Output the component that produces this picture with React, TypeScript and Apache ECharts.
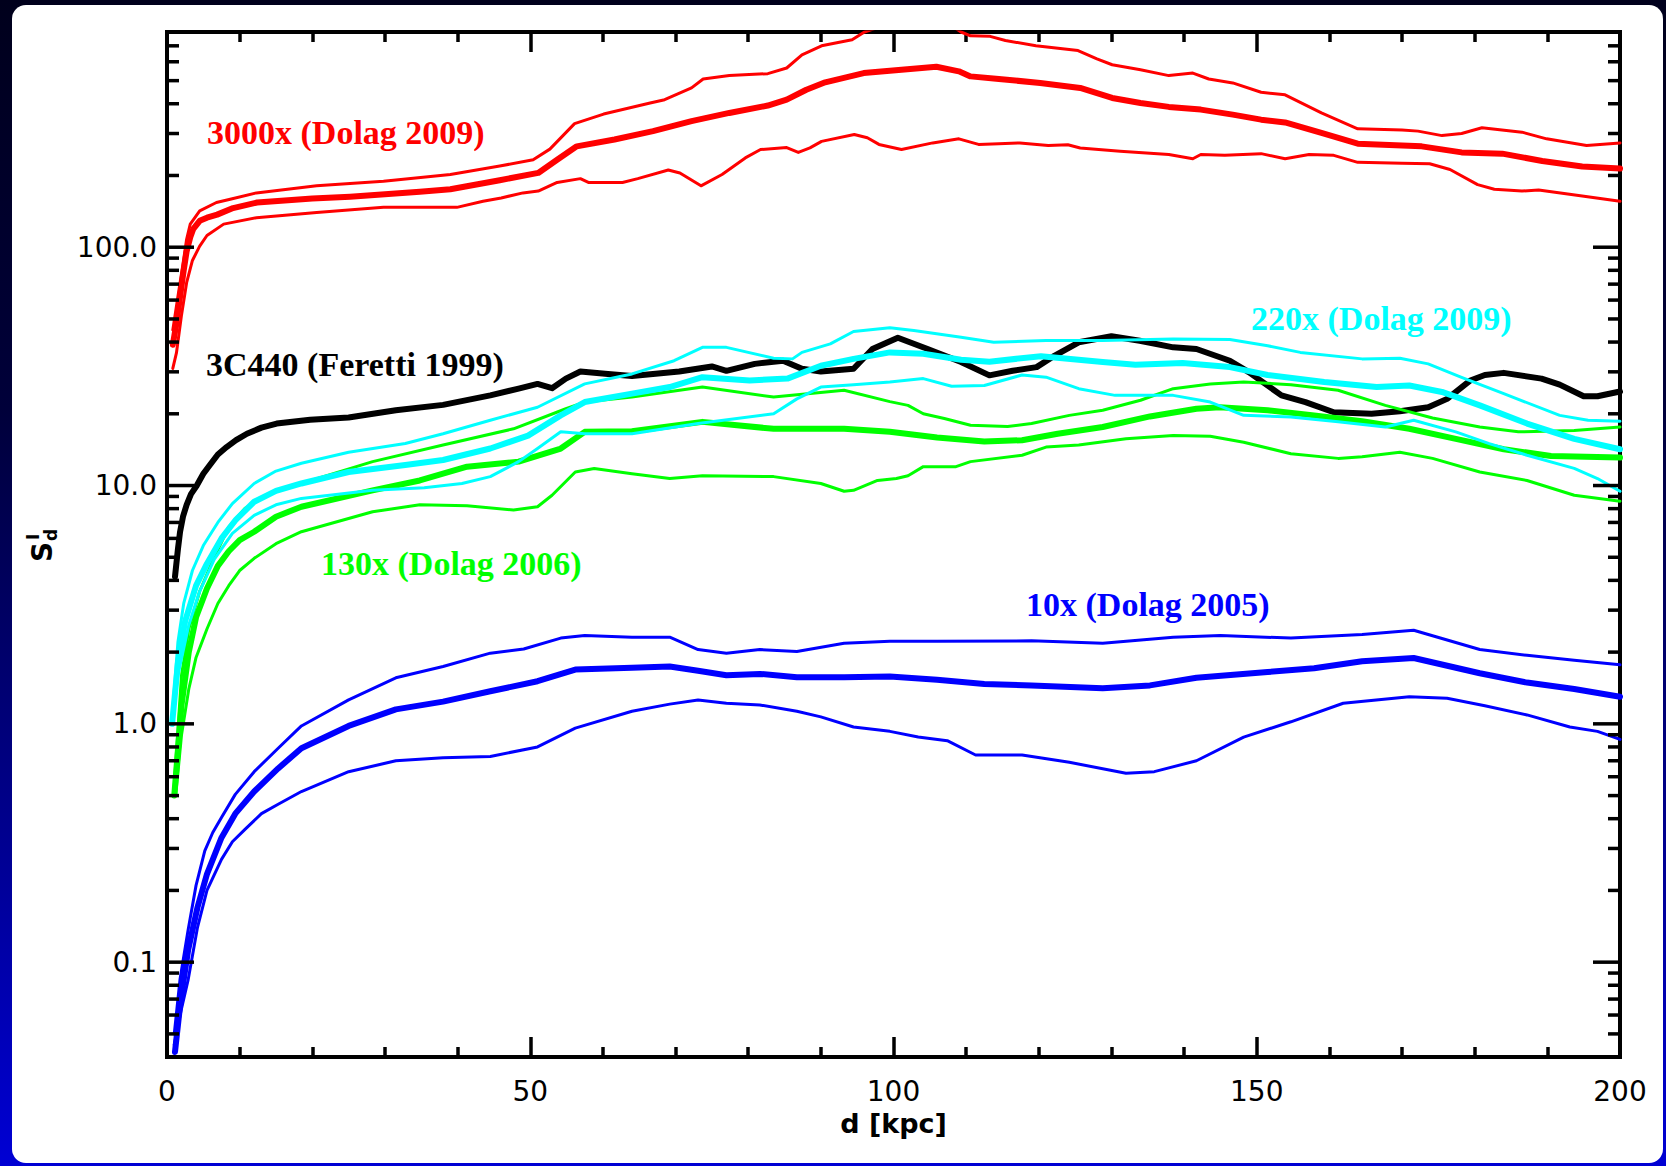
import React, { useEffect, useRef } from "react";
import * as echarts from "echarts";

// ---------- data (d [kpc], S value) ----------
const X_MIN = 0;
const X_MAX = 200;
const Y_MIN = 0.04;
const Y_MAX = 800;
const Y_MAJOR = [0.1, 1, 10, 100];
const Y_MINOR = [
  0.05, 0.06, 0.07, 0.08, 0.09,
  0.2, 0.3, 0.4, 0.5, 0.6, 0.7, 0.8, 0.9,
  2, 3, 4, 5, 6, 7, 8, 9,
  20, 30, 40, 50, 60, 70, 80, 90,
  200, 300, 400, 500, 600, 700,
];

const LABEL_TEXTS = {
  red: "3000x (Dolag 2009)",
  black: "3C440 (Feretti 1999)",
  cyan: "220x (Dolag 2009)",
  green: "130x (Dolag 2006)",
  blue: "10x (Dolag 2005)",
};

const RED_MID = [
  [0.8, 39], [1.3, 48], [1.8, 62], [2.3, 80], [2.7, 96], [3.2, 110], [3.6, 119], [4.5, 129], [5.5, 133],
  [6.9, 137], [9.1, 146], [12.4, 154],
  [20, 160], [25.2, 163], [34.8, 171], [39, 175], [45.8, 191], [51.1, 205], [53.7, 233], [56.4, 265],
  [61.6, 283], [66.9, 307], [72.2, 338], [77.4, 366], [82.7, 393], [85.3, 416], [88.0, 458], [90.6, 492],
  [95.9, 538], [101.1, 556], [105.9, 572], [109.0, 547], [110.6, 521], [114.5, 508], [120.2, 489],
  [125.7, 466], [130.1, 423], [134.0, 403], [137.9, 388], [142.3, 378], [146.7, 360], [150.6, 343],
  [153.9, 334], [158.9, 302], [163.9, 272], [170.0, 267], [172.7, 265], [178.2, 250], [183.8, 247],
  [189.3, 230], [194.8, 218], [200, 214],
];
const RED_UP = [
  [0.8, 45], [1.5, 62], [2.2, 85], [2.7, 108], [3.2, 125], [4.5, 142], [6.8, 154], [8.7, 159], [12.3, 169], [20.6, 181],
  [29.8, 189], [39.0, 202], [45.8, 219], [50.4, 233], [52.7, 258], [56.1, 330], [60.1, 362],
  [66.5, 403], [68.5, 416], [72.2, 466], [73.8, 508], [77.4, 525], [82.7, 535], [85.3, 565],
  [87.4, 642], [90.1, 700], [94.3, 742], [96.0, 800], [100, 880], [104, 900], [108, 850],
  [109.3, 800], [110.6, 771], [113.3, 767], [115.4, 737], [119.6, 700], [125.4, 669], [128.0, 617],
  [130.1, 583], [134.0, 556], [137.9, 525], [141.2, 538], [143.4, 508], [146.7, 489], [150.6, 447],
  [153.9, 436], [158.9, 366], [163.9, 314], [170.0, 310], [172.2, 307], [175.5, 294], [178.2, 300],
  [181.0, 317], [186.5, 304], [189.9, 285], [195.4, 267], [200, 274],
];
const RED_LO = [
  [0.8, 31], [1.3, 36], [2.0, 52], [2.7, 71], [3.5, 88], [4.5, 101], [5.5, 112], [7.8, 125], [12.3, 133], [20.6, 140],
  [29.8, 147], [39.9, 147], [43.5, 156], [46, 161], [49.0, 169], [51.1, 172], [53.7, 187],
  [56.9, 194], [58.0, 187], [62.7, 187], [64.8, 194], [69.0, 211], [70.6, 205], [73.5, 181],
  [76.4, 202], [79.6, 237], [81.7, 257], [85.3, 262], [86.9, 250], [88.5, 261], [90.1, 278],
  [94.6, 297], [96.4, 288], [98.0, 270], [101.1, 257], [105.4, 274], [109.0, 285], [111.7, 270],
  [114.5, 272], [117.4, 274], [121.3, 267], [124.0, 269], [125.7, 261], [131.2, 253], [137.9, 245],
  [141.2, 235], [142.3, 245], [145.6, 243], [150.6, 247], [153.9, 235], [157.2, 245], [160.6, 243],
  [163.9, 227], [170.0, 225], [173.8, 224], [176.6, 212], [180.4, 183], [182.7, 175], [186.5, 172],
  [188.8, 174], [194.3, 165], [200, 156],
];
const BLACK_3C440 = [
  [1.1, 4.15], [1.5, 5.4], [1.8, 6.4], [2.2, 7.4], [2.7, 8.3], [3.3, 9.2], [4.1, 10.0], [5.0, 11.2], [5.9, 12.2],
  [7.0, 13.5], [8.2, 14.5], [9.5, 15.5], [11.0, 16.5], [13.0, 17.5],
  [15.1, 18.2], [19.7, 18.9], [25.0, 19.3], [31.5, 20.7], [38.0, 21.8], [44.5, 23.9], [48.4, 25.5],
  [51.0, 26.7], [53.0, 25.6], [54.9, 28.1], [56.9, 30.1], [60.7, 29.4], [64.0, 28.8], [70.5, 30.1],
  [75.0, 31.6], [77.0, 30.3], [80.9, 32.4], [84.8, 33.4], [87.4, 30.9], [90.0, 30.1], [94.5, 30.9],
  [97.1, 37.4], [100.6, 41.7], [104.7, 37.4], [109.3, 33.0], [113.2, 29.0], [116.4, 30.3],
  [119.7, 31.4], [122.2, 35.1], [125.5, 39.9], [130.0, 42.3], [133.9, 40.5], [138.5, 38.0],
  [141.7, 37.4], [146.3, 33.4], [148.9, 29.9], [153.4, 23.9], [156.7, 22.4], [160.6, 20.3],
  [165.8, 20.0], [169.7, 20.5], [173.6, 21.3], [176.2, 23.1], [179.4, 27.6], [181.4, 29.1],
  [184.0, 29.7], [189.2, 28.1], [191.7, 26.5], [195.0, 23.7], [196.9, 23.7], [200, 24.8],
];
const CYAN_UP = [
  [0.7, 1.05], [1.5, 2.2], [2.3, 3.2], [3.5, 4.4], [5.0, 5.6], [7.0, 7.0], [9.0, 8.4], [12.0, 10.2],
  [15.0, 11.5], [18.5, 12.4], [25.0, 13.8],
  [32.8, 15.0], [38.0, 16.5], [44.5, 18.8], [51.0, 21.3], [57.5, 26.7], [64.0, 29.4], [69.8, 33.4],
  [73.7, 38.0], [77.0, 38.0], [83.5, 34.2], [86.1, 34.0], [87.4, 36.2], [91.3, 39.3], [94.5, 44.3],
  [99.5, 45.9], [102.8, 44.7], [109.3, 41.9], [113.8, 39.9], [121.0, 40.6], [128.8, 40.6],
  [138.5, 41.2], [146.3, 41.0], [151.5, 38.6], [156.0, 36.2], [164.5, 34.0], [169.7, 34.2],
  [173.6, 32.4], [178.1, 28.5], [184.0, 24.3], [191.7, 19.7], [195.6, 18.8], [200, 18.6],
];
const CYAN_MID = [
  [0.7, 1.0], [1.5, 1.8], [2.5, 2.7], [4.0, 3.8], [5.5, 4.7], [7.5, 6.0], [9.5, 7.2], [12.0, 8.55],
  [15.0, 9.5], [18.5, 10.2],
  [25.0, 11.4], [32.8, 12.2], [38.0, 12.8], [44.5, 14.3], [49.7, 16.2], [54.2, 19.7], [57.5, 22.4],
  [64.0, 24.3], [69.2, 25.9], [73.7, 28.5], [80.2, 27.6], [85.4, 28.1], [90.0, 31.8], [94.5, 34.0],
  [99.5, 36.2], [104.1, 35.7], [109.3, 33.7], [113.2, 33.1], [120.3, 34.9], [128.8, 33.0],
  [133.3, 32.1], [139.8, 32.7], [146.3, 31.4], [151.5, 29.1], [159.3, 27.2], [166.5, 25.9],
  [171.0, 26.3], [175.5, 24.7], [180.7, 21.7], [187.2, 18.2], [193.7, 15.7], [200, 14.2],
];
const CYAN_LO = [
  [0.7, 1.0], [1.5, 1.6], [3.0, 2.6], [4.5, 3.6], [6.5, 4.9], [9.0, 6.3], [12.0, 7.5], [15.0, 8.3], [18.5, 8.83],
  [28.3, 9.55], [35.4, 9.78], [40.6, 10.2], [44.5, 10.9], [48.4, 12.6], [51.0, 14.3], [54.2, 16.8],
  [57.5, 16.5], [64.0, 16.5], [73.1, 18.2], [83.5, 20.0], [86.7, 23.1], [90.0, 25.9], [94.5, 26.5],
  [99.5, 27.2], [104.1, 28.1], [108.0, 26.1], [112.5, 26.3], [117.7, 29.1], [121.0, 28.5],
  [125.5, 25.5], [130.5, 23.9], [138.5, 23.9], [143.6, 22.4], [148.2, 19.7], [154.7, 19.4],
  [161.2, 18.5], [167.7, 17.6], [171.6, 18.8], [177.4, 16.8], [182.0, 15.0], [187.2, 13.4],
  [193.7, 11.8], [196.9, 10.7], [200, 9.46],
];
const GREEN_UP = [
  [1.0, 0.55], [2.0, 1.6], [3.0, 2.5], [4.5, 3.6], [6.5, 5.0], [8.5, 6.7], [10.7, 8.0], [14.0, 9.2], [18.5, 10.2],
  [28.3, 12.6], [38.0, 14.8], [47.7, 17.3], [54.9, 21.0], [57.5, 22.4], [64.0, 23.5], [73.7, 25.9],
  [83.5, 23.5], [93.2, 25.1], [99.5, 22.5], [102, 21.7], [104.1, 20.0], [107, 19.1], [110.6, 17.9],
  [115.7, 17.7], [119, 18.2], [124.2, 19.7], [128.8, 20.7], [134, 22.8], [138.5, 25.5],
  [143.6, 26.7], [148.2, 27.2], [154.7, 26.5], [161.2, 25.1], [167.7, 21.7], [174.2, 19.2],
  [180.7, 17.6], [186, 16.8], [193.7, 17.0], [200, 17.6],
];
const GREEN_MID = [
  [1.0, 0.5], [2.0, 1.2], [3.0, 2.0], [4.0, 2.8], [5.5, 3.7], [7.0, 4.6], [8.5, 5.3], [10.0, 5.9],
  [12.0, 6.4], [15.0, 7.4], [18.5, 8.15],
  [28.3, 9.55], [34.8, 10.5], [41.3, 12.0], [48.4, 12.6], [54.2, 14.3], [57.5, 16.8], [64.0, 16.9],
  [73.7, 18.5], [83.5, 17.3], [93.2, 17.3], [99.5, 16.8], [106, 15.9], [112.5, 15.3], [117.7, 15.5],
  [122.6, 16.5], [128.8, 17.6], [135.3, 19.5], [141.7, 21.0], [144.9, 21.3], [151.5, 20.7],
  [157.9, 19.7], [164.5, 18.6], [171, 17.3], [177.4, 15.7], [184, 14.2], [190.5, 13.3], [200, 13.1],
];
const GREEN_LO = [
  [1.2, 0.5], [2.0, 0.9], [3.0, 1.4], [4.0, 1.9], [5.5, 2.5], [7.0, 3.2], [8.5, 3.8], [10.0, 4.4],
  [12.0, 4.95], [15.0, 5.7], [18.5, 6.4],
  [28.3, 7.76], [34.8, 8.3], [41.3, 8.23], [47.7, 7.89], [51.0, 8.15], [53.0, 9.1], [56.2, 11.4],
  [58.8, 11.8], [64.0, 11.2], [69.2, 10.7], [73.7, 11.0], [83.5, 10.9], [90.0, 10.2], [93.2, 9.46],
  [94.5, 9.55], [97.8, 10.5], [100.4, 10.7], [102, 11.0], [104.1, 12.0], [108.6, 12.0],
  [110.6, 12.6], [117.7, 13.4], [121, 14.5], [125.5, 14.8], [132, 15.7], [138.5, 16.2],
  [143.6, 16.1], [148.2, 15.2], [154.7, 13.6], [161.2, 13.0], [164.5, 13.2], [169.7, 13.8],
  [174.2, 13.0], [180.7, 11.4], [187.2, 10.5], [193.7, 9.1], [200, 8.6],
];
const BLUE_UP = [
  [1.0, 0.05], [1.8, 0.085], [2.9, 0.136], [4.0, 0.21], [5.2, 0.293], [6.3, 0.35], [7.5, 0.405], [9.4, 0.506],
  [12.0, 0.63], [15.3, 0.79],
  [18.5, 0.98], [25.0, 1.26], [31.5, 1.56], [38.0, 1.74], [44.5, 1.98], [49.1, 2.06], [54.2, 2.29],
  [57.5, 2.35], [64.0, 2.31], [69.2, 2.31], [73.1, 2.05], [77.0, 1.98], [81.6, 2.05], [86.7, 2.01],
  [93.2, 2.18], [99.5, 2.22], [106, 2.22], [119, 2.23], [128.8, 2.18], [138.5, 2.31], [145, 2.35],
  [154.7, 2.29], [164.5, 2.37], [171.6, 2.47], [180.7, 2.05], [187.2, 1.94], [193.7, 1.85], [200, 1.77],
];
const BLUE_MID = [
  [1.1, 0.042], [1.9, 0.07], [2.9, 0.112], [4.2, 0.17], [5.5, 0.234], [7.5, 0.333], [9.4, 0.42],
  [12.0, 0.52], [15.3, 0.65],
  [18.5, 0.79], [25.0, 0.98], [31.5, 1.15], [38.0, 1.24], [44.5, 1.37], [51.0, 1.51], [56.2, 1.69],
  [64.0, 1.72], [69.2, 1.74], [73.1, 1.67], [77.0, 1.60], [81.6, 1.62], [86.7, 1.57], [93.2, 1.57],
  [99.5, 1.58], [106, 1.53], [112.5, 1.47], [119, 1.45], [128.8, 1.41], [135.3, 1.45], [141.7, 1.56],
  [151.5, 1.65], [157.9, 1.71], [164.5, 1.83], [171.6, 1.89], [180.7, 1.63], [187.2, 1.49],
  [193.7, 1.40], [200, 1.30],
];
const BLUE_LO = [
  [1.0, 0.045], [1.9, 0.062], [2.9, 0.084], [4.2, 0.14], [5.5, 0.2], [7.5, 0.27], [9.0, 0.32],
  [10.7, 0.36], [13.0, 0.42], [15.3, 0.46], [18.5, 0.52],
  [25.0, 0.63], [31.5, 0.70], [38.0, 0.72], [44.5, 0.73], [51.0, 0.80], [56.2, 0.96], [64.0, 1.13],
  [69.2, 1.21], [73.1, 1.26], [77.0, 1.22], [81.6, 1.20], [86.7, 1.13], [90.0, 1.07], [94.5, 0.97],
  [99.5, 0.93], [103.4, 0.88], [107.4, 0.85], [111.3, 0.74], [117.7, 0.74], [124.2, 0.69],
  [132, 0.62], [135.9, 0.63], [141.7, 0.70], [148.2, 0.88], [154.7, 1.02], [161.9, 1.22],
  [171, 1.30], [176.2, 1.28], [181.4, 1.19], [187.2, 1.09], [193.1, 0.97], [196.9, 0.93], [200, 0.86],
];

// ---------- styling ----------
const RED = "#ff0000";
const BLACK = "#000000";
const CYAN = "#00ffff";
const GREEN = "#00ff00";
const BLUE = "#0000ff";
const THICK = 6;
const THIN = 3;

const LINES: { name: string; data: number[][]; color: string; width: number }[] = [
  { name: "3C440", data: BLACK_3C440, color: BLACK, width: THICK },
  { name: "130x lo", data: GREEN_LO, color: GREEN, width: THIN },
  { name: "130x up", data: GREEN_UP, color: GREEN, width: THIN },
  { name: "130x", data: GREEN_MID, color: GREEN, width: THICK },
  { name: "220x lo", data: CYAN_LO, color: CYAN, width: THIN },
  { name: "220x up", data: CYAN_UP, color: CYAN, width: THIN },
  { name: "220x", data: CYAN_MID, color: CYAN, width: THICK },
  { name: "3000x lo", data: RED_LO, color: RED, width: THIN },
  { name: "3000x up", data: RED_UP, color: RED, width: THIN },
  { name: "3000x", data: RED_MID, color: RED, width: THICK },
  { name: "10x lo", data: BLUE_LO, color: BLUE, width: THIN },
  { name: "10x up", data: BLUE_UP, color: BLUE, width: THIN },
  { name: "10x", data: BLUE_MID, color: BLUE, width: THICK },
];

const TICK_FONT = "DejaVu Sans";
const SERIF = "Liberation Serif";

function yLabel(v: number): string {
  const e = Math.log10(v);
  const r = Math.round(e);
  if (Math.abs(e - r) > 1e-6) return "";
  return Math.pow(10, r).toFixed(r < 0 ? -r : 1);
}

export default function App() {
  const ref = useRef<HTMLDivElement>(null);

  useEffect(() => {
    document.body.style.margin = "0";
    document.body.style.overflow = "hidden";
    if (!ref.current) return;
    const chart = echarts.init(ref.current, null, { renderer: "svg" });

    const tickData = [
      ...Y_MAJOR.map((v) => [X_MIN, v, 1]),
      ...Y_MINOR.map((v) => [X_MIN, v, 0]),
    ];

    const lineSeries = LINES.map((l) => ({
      type: "line",
      name: l.name,
      data: l.data,
      showSymbol: false,
      symbol: "none",
      smooth: false,
      clip: true,
      silent: true,
      lineStyle: { color: l.color, width: l.width, cap: "round", join: "round" },
    }));

    const tickSeries = {
      type: "custom",
      silent: true,
      clip: false,
      z: 10,
      data: tickData,
      encode: { x: 0, y: 1 },
      renderItem: (_params: any, api: any) => {
        const v = api.value(1);
        const len = api.value(2) ? 27 : 12;
        const L = api.coord([X_MIN, v]);
        const R = api.coord([X_MAX, v]);
        const st = { stroke: "#000", lineWidth: 3.5 };
        return {
          type: "group",
          children: [
            { type: "line", shape: { x1: L[0], y1: L[1], x2: L[0] + len, y2: L[1] }, style: st },
            { type: "line", shape: { x1: R[0] - len, y1: R[1], x2: R[0], y2: R[1] }, style: st },
          ],
        };
      },
    };

    const xTickCommon = {
      type: "value",
      min: X_MIN,
      max: X_MAX,
      interval: 50,
      axisLine: { show: false },
      axisTick: { show: true, inside: true, length: 20, lineStyle: { color: "#000", width: 3.5 } },
      minorTick: { show: true, splitNumber: 5, length: 10, lineStyle: { color: "#000", width: 3.5 } },
      splitLine: { show: false },
      minorSplitLine: { show: false },
    };

    const labelStyle = (color: string) => ({
      fill: color,
      fontSize: 34,
      fontWeight: "bold",
      fontFamily: SERIF,
      align: "left",
      verticalAlign: "middle",
    });

    chart.setOption({
      animation: false,
      backgroundColor: "transparent",
      grid: {
        left: 167,
        right: 46,
        top: 32,
        bottom: 109,
        show: true,
        borderColor: "#000",
        borderWidth: 4,
        backgroundColor: "transparent",
        containLabel: false,
        outerBoundsMode: "none",
      },
      xAxis: [
        {
          ...xTickCommon,
          position: "bottom",
          axisLabel: { color: "#000", fontSize: 28, fontFamily: TICK_FONT, margin: 20 },
          name: "d [kpc]",
          nameLocation: "middle",
          nameGap: 53,
          nameTextStyle: { color: "#000", fontSize: 27, fontWeight: "bold", fontFamily: TICK_FONT },
        },
        {
          ...xTickCommon,
          position: "top",
          axisLabel: { show: false },
        },
      ],
      yAxis: {
        type: "log",
        logBase: 10,
        min: Y_MIN,
        max: Y_MAX,
        axisLine: { show: false },
        axisTick: { show: false },
        minorTick: { show: false },
        splitLine: { show: false },
        minorSplitLine: { show: false },
        axisLabel: {
          color: "#000",
          fontSize: 28,
          fontFamily: TICK_FONT,
          margin: 10,
          showMinLabel: false,
          showMaxLabel: false,
          formatter: yLabel,
        },
      },
      graphic: [
        { type: "text", x: 207, y: 132, style: { text: LABEL_TEXTS.red, ...labelStyle(RED) }, z: 20 },
        { type: "text", x: 206, y: 364, style: { text: LABEL_TEXTS.black, ...labelStyle(BLACK) }, z: 20 },
        { type: "text", x: 1251, y: 318, style: { text: LABEL_TEXTS.cyan, ...labelStyle(CYAN) }, z: 20 },
        { type: "text", x: 321, y: 563, style: { text: LABEL_TEXTS.green, ...labelStyle(GREEN) }, z: 20 },
        { type: "text", x: 1026, y: 604, style: { text: LABEL_TEXTS.blue, ...labelStyle(BLUE) }, z: 20 },
        {
          type: "group",
          x: 42,
          y: 552,
          rotation: Math.PI / 2,
          z: 20,
          children: [
            {
              type: "text",
              x: 0,
              y: 0,
              style: { text: "S", fill: "#000", fontSize: 28, fontWeight: "bold", fontFamily: TICK_FONT, align: "center", verticalAlign: "middle" },
            },
            {
              type: "text",
              x: 11,
              y: 9,
              style: { text: "d", fill: "#000", fontSize: 17, fontWeight: "bold", fontFamily: TICK_FONT, align: "left", verticalAlign: "middle" },
            },
            {
              type: "text",
              x: 12,
              y: -9,
              style: { text: "I", fill: "#000", fontSize: 17, fontWeight: "bold", fontFamily: TICK_FONT, align: "left", verticalAlign: "middle" },
            },
          ],
        },
      ],
      series: [...lineSeries, tickSeries],
    });

    return () => {
      chart.dispose();
    };
  }, []);

  return (
    <div
      style={{
        position: "absolute",
        left: 0,
        top: 0,
        width: 1666,
        height: 1166,
        overflow: "hidden",
        background: "linear-gradient(180deg, #00001c 0%, #00003a 35%, #000090 72%, #0000d4 100%)",
      }}
    >
      <div
        style={{
          position: "absolute",
          left: 12,
          top: 5,
          width: 1651,
          height: 1158,
          background: "#ffffff",
          borderRadius: 14,
        }}
      />
      <div ref={ref} style={{ position: "absolute", left: 0, top: 0, width: 1666, height: 1166 }} />
    </div>
  );
}
